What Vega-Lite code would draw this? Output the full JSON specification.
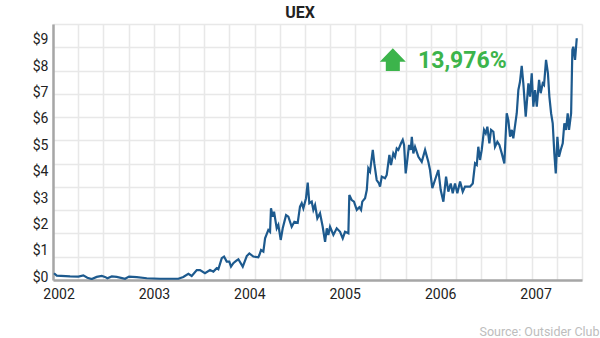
{
  "$schema": "https://vega.github.io/schema/vega-lite/v6.json",
  "width": 529,
  "height": 256,
  "autosize": {"type": "none"},
  "padding": {"left": 53, "top": 24, "right": 18, "bottom": 58},
  "background": "white",
  "title": {"text": "UEX", "font": "Roboto", "fontSize": 16, "fontWeight": "bold", "color": "#222222", "anchor": "middle", "dx": -17.5, "offset": 7, "dy": 16.5, "baseline": "alphabetic"},
  "datasets": {
    "uex": [
      {"year": 2001.953, "price": 0.23}, {"year": 2001.981, "price": 0.14}, {"year": 2002.121, "price": 0.11}, {"year": 2002.208, "price": 0.10},
      {"year": 2002.260, "price": 0.15}, {"year": 2002.302, "price": 0.06}, {"year": 2002.348, "price": 0.01}, {"year": 2002.400, "price": 0.09},
      {"year": 2002.453, "price": 0.125}, {"year": 2002.487, "price": 0.09}, {"year": 2002.512, "price": 0.04}, {"year": 2002.558, "price": 0.11},
      {"year": 2002.610, "price": 0.09}, {"year": 2002.697, "price": 0.02}, {"year": 2002.739, "price": 0.10}, {"year": 2002.820, "price": 0.08},
      {"year": 2002.925, "price": 0.04}, {"year": 2003.065, "price": 0.02}, {"year": 2003.256, "price": 0.02}, {"year": 2003.308, "price": 0.09},
      {"year": 2003.361, "price": 0.21}, {"year": 2003.396, "price": 0.125}, {"year": 2003.449, "price": 0.35}, {"year": 2003.483, "price": 0.35},
      {"year": 2003.535, "price": 0.23}, {"year": 2003.588, "price": 0.35}, {"year": 2003.623, "price": 0.29}, {"year": 2003.658, "price": 0.42},
      {"year": 2003.675, "price": 0.38}, {"year": 2003.711, "price": 0.80}, {"year": 2003.735, "price": 0.86}, {"year": 2003.763, "price": 0.67},
      {"year": 2003.790, "price": 0.67}, {"year": 2003.808, "price": 0.48}, {"year": 2003.832, "price": 0.61}, {"year": 2003.861, "price": 0.70},
      {"year": 2003.885, "price": 0.76}, {"year": 2003.931, "price": 0.48}, {"year": 2003.973, "price": 0.88}, {"year": 2004.000, "price": 0.98},
      {"year": 2004.042, "price": 0.86}, {"year": 2004.094, "price": 0.83}, {"year": 2004.105, "price": 0.92}, {"year": 2004.123, "price": 1.11},
      {"year": 2004.147, "price": 1.05}, {"year": 2004.165, "price": 1.55}, {"year": 2004.199, "price": 1.87}, {"year": 2004.217, "price": 1.80},
      {"year": 2004.227, "price": 2.69}, {"year": 2004.245, "price": 2.37}, {"year": 2004.259, "price": 2.56}, {"year": 2004.287, "price": 1.93},
      {"year": 2004.304, "price": 2.06}, {"year": 2004.329, "price": 1.49}, {"year": 2004.350, "price": 1.93}, {"year": 2004.385, "price": 2.43},
      {"year": 2004.409, "price": 2.37}, {"year": 2004.444, "price": 1.99}, {"year": 2004.472, "price": 2.18}, {"year": 2004.507, "price": 2.14},
      {"year": 2004.531, "price": 2.75}, {"year": 2004.549, "price": 2.88}, {"year": 2004.566, "price": 2.69}, {"year": 2004.594, "price": 3.07},
      {"year": 2004.612, "price": 3.66}, {"year": 2004.629, "price": 2.88}, {"year": 2004.654, "price": 2.94}, {"year": 2004.671, "price": 2.63},
      {"year": 2004.689, "price": 2.81}, {"year": 2004.713, "price": 2.31}, {"year": 2004.741, "price": 2.50}, {"year": 2004.769, "price": 1.99},
      {"year": 2004.794, "price": 1.42}, {"year": 2004.812, "price": 1.93}, {"year": 2004.828, "price": 1.68}, {"year": 2004.846, "price": 1.99},
      {"year": 2004.881, "price": 1.68}, {"year": 2004.916, "price": 1.93}, {"year": 2004.951, "price": 1.80}, {"year": 2004.979, "price": 1.55},
      {"year": 2005.003, "price": 1.80}, {"year": 2005.038, "price": 1.74}, {"year": 2005.048, "price": 3.19}, {"year": 2005.073, "price": 3.00},
      {"year": 2005.097, "price": 2.94}, {"year": 2005.126, "price": 2.63}, {"year": 2005.153, "price": 2.73}, {"year": 2005.171, "price": 2.63},
      {"year": 2005.184, "price": 2.94}, {"year": 2005.213, "price": 3.07}, {"year": 2005.231, "price": 3.38}, {"year": 2005.247, "price": 4.20},
      {"year": 2005.265, "price": 4.08}, {"year": 2005.294, "price": 4.90}, {"year": 2005.310, "price": 4.39}, {"year": 2005.335, "price": 3.76},
      {"year": 2005.359, "price": 3.63}, {"year": 2005.370, "price": 3.51}, {"year": 2005.388, "price": 3.89}, {"year": 2005.422, "price": 3.83},
      {"year": 2005.440, "price": 3.95}, {"year": 2005.468, "price": 4.71}, {"year": 2005.485, "price": 4.33}, {"year": 2005.509, "price": 4.77},
      {"year": 2005.527, "price": 4.64}, {"year": 2005.545, "price": 4.96}, {"year": 2005.562, "price": 4.90}, {"year": 2005.590, "price": 5.15},
      {"year": 2005.608, "price": 5.28}, {"year": 2005.622, "price": 5.09}, {"year": 2005.639, "price": 4.01}, {"year": 2005.656, "price": 4.52},
      {"year": 2005.674, "price": 5.09}, {"year": 2005.692, "price": 4.90}, {"year": 2005.703, "price": 5.40}, {"year": 2005.719, "price": 4.77},
      {"year": 2005.737, "price": 5.02}, {"year": 2005.772, "price": 4.64}, {"year": 2005.807, "price": 4.45}, {"year": 2005.842, "price": 4.90},
      {"year": 2005.876, "price": 4.45}, {"year": 2005.894, "price": 4.14}, {"year": 2005.918, "price": 3.45}, {"year": 2005.946, "price": 3.76},
      {"year": 2005.981, "price": 4.14}, {"year": 2006.006, "price": 3.38}, {"year": 2006.034, "price": 2.94}, {"year": 2006.062, "price": 3.89},
      {"year": 2006.086, "price": 3.32}, {"year": 2006.111, "price": 3.63}, {"year": 2006.132, "price": 3.26}, {"year": 2006.156, "price": 3.63},
      {"year": 2006.180, "price": 3.26}, {"year": 2006.209, "price": 3.70}, {"year": 2006.237, "price": 3.32}, {"year": 2006.261, "price": 3.51},
      {"year": 2006.296, "price": 3.51}, {"year": 2006.313, "price": 3.51}, {"year": 2006.342, "price": 3.63}, {"year": 2006.366, "price": 4.39},
      {"year": 2006.384, "price": 4.33}, {"year": 2006.400, "price": 5.02}, {"year": 2006.418, "price": 4.52}, {"year": 2006.436, "price": 4.90},
      {"year": 2006.460, "price": 5.66}, {"year": 2006.478, "price": 5.53}, {"year": 2006.495, "price": 5.78}, {"year": 2006.516, "price": 5.15},
      {"year": 2006.534, "price": 5.66}, {"year": 2006.558, "price": 5.59}, {"year": 2006.575, "price": 5.02}, {"year": 2006.600, "price": 5.21},
      {"year": 2006.621, "price": 5.09}, {"year": 2006.646, "price": 4.77}, {"year": 2006.673, "price": 4.39}, {"year": 2006.698, "price": 6.29},
      {"year": 2006.715, "price": 6.03}, {"year": 2006.733, "price": 5.40}, {"year": 2006.751, "price": 5.66}, {"year": 2006.767, "price": 5.34},
      {"year": 2006.803, "price": 6.29}, {"year": 2006.820, "price": 7.17}, {"year": 2006.837, "price": 7.48}, {"year": 2006.855, "price": 8.08},
      {"year": 2006.872, "price": 7.42}, {"year": 2006.897, "price": 6.16}, {"year": 2006.925, "price": 7.42}, {"year": 2006.942, "price": 6.92},
      {"year": 2006.960, "price": 7.80}, {"year": 2006.977, "price": 6.54}, {"year": 2006.995, "price": 7.17}, {"year": 2007.013, "price": 6.54},
      {"year": 2007.037, "price": 7.55}, {"year": 2007.054, "price": 7.05}, {"year": 2007.075, "price": 7.42}, {"year": 2007.089, "price": 7.36},
      {"year": 2007.110, "price": 8.31}, {"year": 2007.130, "price": 7.80}, {"year": 2007.145, "price": 6.92}, {"year": 2007.163, "price": 6.29},
      {"year": 2007.180, "price": 5.91}, {"year": 2007.197, "price": 4.77}, {"year": 2007.212, "price": 4.01}, {"year": 2007.229, "price": 5.40},
      {"year": 2007.246, "price": 4.64}, {"year": 2007.264, "price": 4.90}, {"year": 2007.285, "price": 5.15}, {"year": 2007.302, "price": 5.91},
      {"year": 2007.320, "price": 5.66}, {"year": 2007.337, "price": 6.29}, {"year": 2007.351, "price": 5.66}, {"year": 2007.373, "price": 6.29},
      {"year": 2007.386, "price": 8.69}, {"year": 2007.396, "price": 8.81}, {"year": 2007.414, "price": 8.31}, {"year": 2007.432, "price": 9.13}
    ],
    "note": [{"label": "13,976%", "year": 2005.768, "price": 8.27}],
    "arrow": [{"year": 2005.504, "price": 8.32}],
    "gridcell": [{"gx": 0, "gy": 0}]
  },
  "layer": [
    {
      "data": {"name": "gridcell"},
      "mark": {"type": "point", "opacity": 0},
      "encoding": {
        "x": {"field": "gx", "type": "quantitative", "scale": {"domain": [0, 21], "nice": false, "zero": false},
          "axis": {"orient": "top", "values": [0,1,2,3,4,5,6,7,8,9,10,11,12,13,14,15,16,17,18,19,20,21], "grid": true, "gridColor": "#e8e8e8", "gridWidth": 1.5, "labels": false, "ticks": false, "domain": false, "title": null}},
        "y": {"field": "gy", "type": "quantitative", "scale": {"domain": [0, 11], "nice": false, "zero": false},
          "axis": {"orient": "right", "values": [0,1,2,3,4,5,6,7,8,9,10,11], "grid": true, "gridColor": "#e8e8e8", "gridWidth": 1.5, "labels": false, "ticks": false, "domain": false, "title": null}}
      }
    },
    {
      "encoding": {
        "x": {"field": "year", "type": "quantitative", "scale": {"domain": [2001.942, 2007.487], "nice": false, "zero": false},
          "axis": {"orient": "bottom", "values": [2002, 2003, 2004, 2005, 2006, 2007], "format": "d", "grid": false, "ticks": false, "tickSize": 0, "labelPadding": 7, "labelFlush": false, "labelOverlap": false, "labelBound": false, "labelFont": "Roboto", "labelFontSize": 14, "labelColor": "#222222", "domainColor": "#a6a6a6", "domainWidth": 2.5,
            "title": "Source: Outsider Club", "titleX": 546, "titleY": 55, "titleAlign": "right", "titleBaseline": "alphabetic", "titleAnchor": "end", "titleFont": "Roboto", "titleFontSize": 12.5, "titleFontWeight": "normal", "titleColor": "#bdbdbd"}},
        "y": {"field": "price", "type": "quantitative", "scale": {"domain": [-0.027, 9.67], "nice": false, "zero": false},
          "axis": {"orient": "left", "values": [0,1,2,3,4,5,6,7,8,9], "format": "$d", "grid": false, "ticks": false, "tickSize": 0, "labelPadding": 5, "labelOffset": -2, "labelFont": "Roboto", "labelFontSize": 14, "labelColor": "#222222", "domainColor": "#a6a6a6", "domainWidth": 2.5, "title": null}}
      },
      "layer": [
        {"data": {"name": "uex"}, "mark": {"type": "line", "color": "#1d5a8e", "strokeWidth": 2.2, "clip": true}},
        {"data": {"name": "arrow"}, "mark": {"type": "point", "shape": "M0,-0.873L1,0.158L0.54,0.158L0.54,0.873L-0.54,0.873L-0.54,0.158L-1,0.158Z", "size": 676, "filled": true, "color": "#3cb44b", "opacity": 1, "strokeWidth": 0}},
        {"data": {"name": "note"}, "mark": {"type": "text", "font": "Roboto", "fontSize": 23, "fontWeight": "bold", "color": "#3cb44b", "align": "left", "baseline": "middle"}, "encoding": {"text": {"field": "label", "type": "nominal"}}}
      ]
    }
  ],
  "resolve": {"scale": {"x": "independent", "y": "independent"}},
  "config": {"view": {"stroke": null}}
}
